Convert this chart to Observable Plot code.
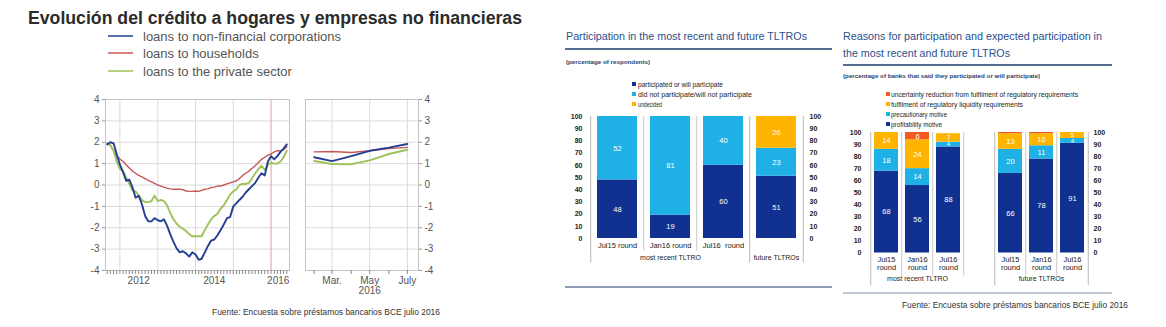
<!DOCTYPE html>
<html><head><meta charset="utf-8">
<script src="https://cdn.jsdelivr.net/npm/d3@7"></script>
<script src="https://cdn.jsdelivr.net/npm/@observablehq/plot@0.6"></script>
<style>
body{margin:0;background:#fff;}
#root{position:relative;width:1166px;height:327px;overflow:hidden;background:#fff;}
</style>
</head><body><div id="root"></div>
<script>
// ---------------- DATA ----------------
// Left chart: monthly growth of loans (Sep 2011 .. Jun 2016)
const loanMonths = d3.utcMonth.range(new Date(Date.UTC(2011, 8, 1)), new Date(Date.UTC(2016, 6, 1)));
const loansNFC = [1.9, 2.0, 1.95, 1.45,
  0.95, 0.6, 0.2, 0.25, -0.1, -0.6, -0.5, -0.9, -1.45, -1.7, -1.7, -1.55,
  -1.65, -1.7, -1.6, -1.9, -2.3, -2.65, -2.95, -3.15, -3.1, -3.2, -3.35, -3.15,
  -3.25, -3.5, -3.45, -3.15, -2.85, -2.6, -2.55, -2.35, -2.1, -1.85, -1.55, -1.5,
  -1.0, -0.85, -0.7, -0.55, -0.35, -0.2, -0.05, 0.1, 0.35, 0.55, 0.45, 1.1,
  1.35, 1.2, 1.35, 1.55, 1.7, 1.9];
const loansHH = [1.95, 1.85, 1.6, 1.35,
  1.22, 1.1, 0.95, 0.8, 0.65, 0.55, 0.45, 0.38, 0.3, 0.22, 0.15, 0.08,
  0.0, -0.05, -0.1, -0.15, -0.18, -0.2, -0.2, -0.2, -0.22, -0.28, -0.3, -0.3,
  -0.28, -0.3, -0.25, -0.2, -0.18, -0.12, -0.1, -0.05, -0.05, 0.0, 0.05, 0.1,
  0.15, 0.2, 0.3, 0.45, 0.55, 0.65, 0.78, 0.9, 1.05, 1.2, 1.3, 1.4,
  1.45, 1.55, 1.6, 1.6, 1.65, 1.8];
const loansPrivate = [1.95, 1.85, 1.6, 1.1,
  0.75, 0.65, 0.35, 0.05, -0.25, -0.3, -0.5, -0.7, -0.8, -0.8, -0.75, -0.5,
  -0.75, -0.7, -0.75, -0.95, -1.3, -1.6, -1.8, -1.95, -2.05, -2.15, -2.3, -2.4,
  -2.4, -2.4, -2.4, -2.1, -1.85, -1.6, -1.45, -1.35, -1.1, -0.95, -0.7, -0.45,
  -0.3, -0.2, 0.0, 0.05, 0.05, 0.1, 0.3, 0.55, 0.75, 0.9, 0.7, 0.95,
  1.05, 1.0, 1.0, 1.1, 1.3, 1.6];
// Zoom panel Feb..Jul 2016
const recentMonths = d3.utcMonth.range(new Date(Date.UTC(2016, 1, 1)), new Date(Date.UTC(2016, 7, 1)));
const recentNFC = [1.3, 1.12, 1.35, 1.6, 1.75, 1.92];
const recentHH = [1.55, 1.57, 1.52, 1.6, 1.7, 1.76];
const recentPrivate = [1.12, 0.98, 0.97, 1.15, 1.45, 1.65];
const loanSeriesNames = ["loans to non-financial corporations", "loans to households", "loans to the private sector"];
const loanYTicks = [-4, -3, -2, -1, 0, 1, 2, 3, 4];
const yearLabels = ["2012", "2014", "2016"];
const recentMonthLabels = ["Mar.", "May", "July"];

// Middle chart: participation in TLTROs (% of respondents)
const partCats = ["Jul15 round", "Jan16 round", "Jul16  round", "future"];
const partCatLabels = ["Jul15 round", "Jan16 round", "Jul16  round", ""];
const partSeries = ["participated or will participate", "did not participate/will not participate", "undecided"];
const partParticipated = [48, 19, 60, 51];
const partNotParticipated = [52, 81, 40, 23];
const partUndecided = [0, 0, 0, 26];
const partGroups = ["most recent TLTRO", "future TLTROs"];

// Right chart: reasons for participation (% of banks)
const reasonCats = ["mr Jul15", "mr Jan16", "mr Jul16", "gap", "f Jul15", "f Jan16", "f Jul16"];
const reasonCatLabels = ["Jul15\nround", "Jan16\nround", "Jul16\nround", "", "Jul15\nround", "Jan16\nround", "Jul16\nround"];
const reasonSeries = ["profitability motive", "precautionary motive", "fulfilment of regulatory  liquidity requirements", "uncertainty reduction from fulfilment of regulatory requirements"];
const reasonProfitability = [68, 56, 88, 0, 66, 78, 91];
const reasonPrecautionary = [18, 14, 4, 0, 20, 11, 4];
const reasonLiquidity = [14, 24, 7, 0, 13, 10, 5];
const reasonUncertainty = [0, 6, 0, 0, 1, 1, 0];
const reasonGroups = ["most recent TLTRO", "future TLTROs"];
const pctTicks = [0, 10, 20, 30, 40, 50, 60, 70, 80, 90, 100];

// ---------------- STYLE ----------------
const FONT = "'Liberation Sans', Arial, sans-serif";
const NARROW = "'Liberation Sans Narrow', 'Liberation Sans', Arial, sans-serif";
const C_NFC = "#243f92", C_HH = "#c65858", C_PRIV = "#9fc25a";
const ECB_DARK = "#10318f", ECB_LIGHT = "#1fb1e6", ECB_YELLOW = "#ffb400", ECB_RED = "#f25a1f";
const TITLE_BLUE = "#2b4f8e";
const hyphenFmt = d => String(d);

const root = document.getElementById("root");
function place(svg, left, top) {
  svg.style.position = "absolute";
  svg.style.left = left + "px";
  svg.style.top = top + "px";
  root.appendChild(svg);
}

// ---------------- OVERLAY TEXT ----------------
const ov = d3.select(root).append("svg").attr("width", 1166).attr("height", 327)
  .style("position", "absolute").style("left", "0px").style("top", "0px");
function txt(x, y, s, o = {}) {
  const t = ov.append("text").attr("x", x).attr("y", y).attr("dominant-baseline", "central")
    .attr("font-family", o.family || FONT).attr("font-size", o.size || 10)
    .attr("fill", o.fill || "#333").attr("font-weight", o.weight || "normal").text(s);
  if (o.anchor) t.attr("text-anchor", o.anchor);
  if (o.len) t.attr("textLength", o.len).attr("lengthAdjust", "spacingAndGlyphs");
  return t;
}
// Left chart title + legend + source
txt(28, 18, "Evolución del crédito a hogares y empresas no financieras", {size: 17.5, weight: "bold", fill: "#2b2b2b", len: 494});
[[C_NFC, 36], [C_HH, 53], [C_PRIV, 71]].forEach(([c, y], i) => {
  ov.append("line").attr("x1", 108).attr("x2", 133).attr("y1", y).attr("y2", y).attr("stroke", c).attr("stroke-width", 1.5);
  txt(143, y, loanSeriesNames[i], {size: 13, fill: "#555"});
});
txt(212, 312, "Fuente: Encuesta sobre préstamos bancarios BCE julio 2016", {size: 8.5, family: NARROW, fill: "#333", len: 228});

// Middle chart headers
txt(566, 36, "Participation in the most recent and future TLTROs", {size: 11, fill: TITLE_BLUE, len: 241});
ov.append("line").attr("x1", 565).attr("x2", 832).attr("y1", 49).attr("y2", 49).attr("stroke", "#1c3a6b").attr("stroke-width", 1.3);
txt(566, 62, "(percentage of respondents)", {size: 6, family: NARROW, fill: "#2b3f6e", weight: "bold", len: 84});
[[ECB_DARK, 84, 85], [ECB_LIGHT, 94, 114], [ECB_YELLOW, 104, 24]].forEach(([c, y, l], i) => {
  ov.append("rect").attr("x", 632).attr("y", y - 2).attr("width", 4).attr("height", 4).attr("fill", c);
  txt(638, y, partSeries[i], {size: 6.5, family: NARROW, fill: "#222", len: l});
});
ov.append("line").attr("x1", 565).attr("x2", 832).attr("y1", 287).attr("y2", 287).attr("stroke", "#1c3a6b").attr("stroke-width", 1.2);

// Right chart headers
txt(843, 36, "Reasons for participation and expected participation in", {size: 11, fill: TITLE_BLUE, len: 259});
txt(843, 53, "the most recent and future TLTROs", {size: 11, fill: TITLE_BLUE, len: 167});
ov.append("line").attr("x1", 843).attr("x2", 1112).attr("y1", 65).attr("y2", 65).attr("stroke", "#1c3a6b").attr("stroke-width", 1.3);
txt(843, 76, "(percentage of banks that said they participated or will participate)", {size: 6, family: NARROW, fill: "#2b3f6e", weight: "bold", len: 197});
[[ECB_RED, 94, 187, 3], [ECB_YELLOW, 104, 132, 2], [ECB_LIGHT, 114, 56, 1], [ECB_DARK, 124, 51, 0]].forEach(([c, y, l, si]) => {
  ov.append("rect").attr("x", 886).attr("y", y - 2).attr("width", 4).attr("height", 4).attr("fill", c);
  txt(891, y, reasonSeries[si], {size: 6.5, family: NARROW, fill: "#222", len: l});
});
ov.append("line").attr("x1", 843).attr("x2", 1112).attr("y1", 293).attr("y2", 293).attr("stroke", "#7f8fa8").attr("stroke-width", 1);
txt(902, 305, "Fuente: Encuesta sobre préstamos bancarios BCE julio 2016", {size: 9, family: NARROW, fill: "#333", len: 226});

// ---------------- LEFT: main line panel ----------------
const lineStyle = {fontFamily: FONT, fontSize: "10px", color: "#555", background: "transparent", overflow: "visible"};
const mainData = [];
[[loansHH, loanSeriesNames[1]], [loansPrivate, loanSeriesNames[2]], [loansNFC, loanSeriesNames[0]]].forEach(([vals, name]) =>
  vals.forEach((v, i) => mainData.push({date: loanMonths[i], value: v, name})));
const colorOpt = {domain: loanSeriesNames, range: [C_NFC, C_HH, C_PRIV]};
const yearStarts = [2012, 2013, 2014, 2015].map(y => new Date(Date.UTC(y, 0, 1)));
const jan2016 = new Date(Date.UTC(2016, 0, 1));
const mainPlot = Plot.plot({
  width: 215, height: 215, marginLeft: 25, marginRight: 6, marginTop: 9, marginBottom: 35,
  style: lineStyle,
  x: {type: "utc", domain: [new Date(Date.UTC(2011, 7, 15)), new Date(Date.UTC(2016, 5, 27))], label: null},
  y: {domain: [-4, 4], label: null},
  color: colorOpt,
  marks: [
    Plot.gridY(loanYTicks, {stroke: "#dadada", strokeOpacity: 1}),
    Plot.gridX(yearStarts, {stroke: "#dadada", strokeOpacity: 1}),
    Plot.ruleX([jan2016], {stroke: "#e3a0a0"}),
    Plot.frame({stroke: "#c4c4c4"}),
    Plot.axisY(loanYTicks, {tickSize: 3, tickPadding: 3, stroke: "#999", label: null, tickFormat: hyphenFmt}),
    Plot.axisX(d3.utcMonth.range(new Date(Date.UTC(2011, 8, 1)), new Date(Date.UTC(2016, 6, 1))), {tickSize: 4, stroke: "#888", tickFormat: () => "", label: null}),
    Plot.text(yearLabels, {x: (d) => d === "2016" ? new Date(Date.UTC(2016, 2, 10)) : new Date(Date.UTC(+d, 6, 1)), text: d => d, frameAnchor: "bottom", dy: 13, fontSize: 10, fill: "#555"}),
    Plot.line(mainData, {x: "date", y: "value", z: "name", stroke: "name", strokeWidth: d => d.name === loanSeriesNames[1] ? 1.4 : 1.9, curve: "linear"})
  ]
});
place(mainPlot, 80, 90);

// ---------------- LEFT: zoom panel ----------------
const recentData = [];
[[recentHH, loanSeriesNames[1]], [recentPrivate, loanSeriesNames[2]], [recentNFC, loanSeriesNames[0]]].forEach(([vals, name]) =>
  vals.forEach((v, i) => recentData.push({date: recentMonths[i], value: v, name})));
const labelMonths = [2, 4, 6].map(m => new Date(Date.UTC(2016, m, 1)));
const recentPlot = Plot.plot({
  width: 150, height: 215, marginLeft: 10, marginRight: 27, marginTop: 9, marginBottom: 35,
  style: lineStyle,
  x: {type: "utc", domain: [new Date(Date.UTC(2016, 0, 18)), new Date(Date.UTC(2016, 6, 19))], label: null},
  y: {domain: [-4, 4], label: null},
  color: colorOpt,
  marks: [
    Plot.gridY(loanYTicks, {stroke: "#dadada", strokeOpacity: 1}),
    Plot.gridX(labelMonths, {stroke: "#dadada", strokeOpacity: 1}),
    Plot.frame({stroke: "#c4c4c4"}),
    Plot.axisY(loanYTicks, {anchor: "right", tickSize: 3, tickPadding: 3, stroke: "#999", label: null, tickFormat: hyphenFmt}),
    Plot.axisX(recentMonths, {tickSize: 4, stroke: "#888", tickFormat: () => "", label: null}),
    Plot.text(recentMonthLabels, {x: (d, i) => labelMonths[i], text: d => d, frameAnchor: "bottom", dy: 13, fontSize: 10, fill: "#555"}),
    Plot.text(["2016"], {x: () => new Date(Date.UTC(2016, 4, 1)), text: d => d, frameAnchor: "bottom", dy: 23, fontSize: 10, fill: "#555"}),
    Plot.line(recentData, {x: "date", y: "value", z: "name", stroke: "name", strokeWidth: d => d.name === loanSeriesNames[1] ? 1.4 : 1.9})
  ]
});
place(recentPlot, 295, 90);

// ---------------- MIDDLE: participation bars ----------------
const barStyle = {fontFamily: NARROW, fontSize: "7px", color: "#222", background: "transparent", overflow: "visible"};
const partData = [];
[[partParticipated, partSeries[0]], [partNotParticipated, partSeries[1]], [partUndecided, partSeries[2]]].forEach(([vals, s]) =>
  vals.forEach((v, i) => partData.push({cat: partCats[i], series: s, value: v})));
const pW = 280, pML = 31, pMR = 37, pPI = 0.24, pPO = 0.1;
const pStep = (pW - pML - pMR) / (partCats.length - pPI + 2 * pPO);
const partPlot = Plot.plot({
  width: pW, height: 170, marginLeft: pML, marginRight: pMR, marginTop: 11, marginBottom: 37,
  style: barStyle,
  x: {domain: partCats, paddingInner: pPI, paddingOuter: pPO, axis: null},
  y: {domain: [0, 100], axis: null},
  color: {domain: partSeries, range: [ECB_DARK, ECB_LIGHT, ECB_YELLOW]},
  marks: [
    Plot.ruleX([partCats[1], partCats[2]], {x: d => d, dx: -pStep / 2, y1: 100, y2: -10, stroke: "#c8c8c8"}),
    Plot.ruleX([partCats[0], partCats[3]], {x: d => d, dx: -pStep / 2, y1: 100, y2: -20, stroke: "#b8b8b8"}),
    Plot.ruleX([partCats[3]], {x: d => d, dx: pStep / 2, y1: 100, y2: -20, stroke: "#b8b8b8"}),
    Plot.axisY(pctTicks, {anchor: "left", tickSize: 0, tickPadding: 9, label: null, fontWeight: "bold"}),
    Plot.axisY(pctTicks, {anchor: "right", tickSize: 0, tickPadding: 6, label: null, fontWeight: "bold"}),
    Plot.barY(partData, {x: "cat", y: "value", fill: "series"}),
    Plot.text(partData, Plot.stackY({x: "cat", y: "value", z: "series", text: d => d.value > 0 ? String(d.value) : "", fill: "white", fontSize: 7.5})),
    Plot.text(partCats, {x: d => d, text: (d, i) => partCatLabels[i], frameAnchor: "bottom", dy: 9, fontSize: 7.5, fill: "#222"}),
    Plot.text(partGroups, {x: (d, i) => i === 0 ? partCats[1] : partCats[3], text: d => d, frameAnchor: "bottom", dy: 21, fontSize: 7, fill: "#222"})
  ]
});
place(partPlot, 560, 105);

// ---------------- RIGHT: reasons bars ----------------
const reasonData = [];
[[reasonProfitability, reasonSeries[0]], [reasonPrecautionary, reasonSeries[1]], [reasonLiquidity, reasonSeries[2]], [reasonUncertainty, reasonSeries[3]]].forEach(([vals, s]) =>
  vals.forEach((v, i) => reasonData.push({cat: reasonCats[i], series: s, value: v})));
const rW = 326, rML = 30, rMR = 79, rPI = 0.238, rPO = 0.063;
const rStep = (rW - rML - rMR) / (reasonCats.length - rPI + 2 * rPO);
const reasonPlot = Plot.plot({
  width: rW, height: 175, marginLeft: rML, marginRight: rMR, marginTop: 12, marginBottom: 42.5,
  style: barStyle,
  x: {domain: reasonCats, paddingInner: rPI, paddingOuter: rPO, axis: null},
  y: {domain: [0, 100], axis: null},
  color: {domain: reasonSeries, range: [ECB_DARK, ECB_LIGHT, ECB_YELLOW, ECB_RED]},
  marks: [
    Plot.ruleX([reasonCats[1], reasonCats[2], reasonCats[3], reasonCats[5], reasonCats[6]], {x: d => d, dx: -rStep / 2, y1: 100, y2: -19, stroke: "#c8c8c8"}),
    Plot.ruleX([reasonCats[0], reasonCats[4]], {x: d => d, dx: -rStep / 2, y1: 100, y2: -27, stroke: "#b8b8b8"}),
    Plot.ruleX([reasonCats[6]], {x: d => d, dx: rStep / 2, y1: 100, y2: -27, stroke: "#b8b8b8"}),
    Plot.axisY(pctTicks, {anchor: "left", tickSize: 0, tickPadding: 9, label: null, fontWeight: "bold"}),
    Plot.axisY(pctTicks, {anchor: "right", tickSize: 0, tickPadding: 6, label: null, fontWeight: "bold"}),
    Plot.barY(reasonData, {x: "cat", y: "value", fill: "series"}),
    Plot.text(reasonData, Plot.stackY({x: "cat", y: "value", z: "series", text: d => d.value > 1 ? String(d.value) : "", fill: "white", fontSize: d => d.value <= 5 ? 6 : 7.5})),
    Plot.text(reasonCats, {x: d => d, text: (d, i) => reasonCatLabels[i], frameAnchor: "bottom", lineAnchor: "top", dy: 3, lineHeight: 1.1, fontSize: 7.5, fill: "#222"}),
    Plot.text(reasonGroups, {x: (d, i) => i === 0 ? reasonCats[1] : reasonCats[5], text: d => d, frameAnchor: "bottom", dy: 28, fontSize: 7, fill: "#222"})
  ]
});
place(reasonPlot, 840, 120);
</script>
</body></html>
